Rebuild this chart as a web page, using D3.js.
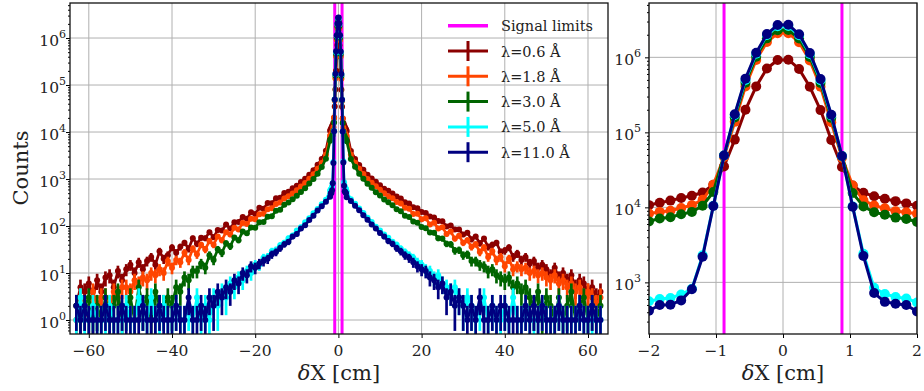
<!DOCTYPE html>
<html lang="en">
<head>
<meta charset="utf-8">
<style>
  body { margin: 0; background: #fff; }
  .grid line { stroke: #b0b0b0; stroke-width: 1; }
  .axis path { display: none; }
  .axis line { stroke: #000; stroke-width: 1; }
</style>
</head>
<body>
<svg width="924" height="391"></svg>
<script src="https://d3js.org/d3.v7.min.js"></script>
<script>

// ---- data ----
var labels = ["λ=0.6 Å", "λ=1.8 Å", "λ=3.0 Å", "λ=5.0 Å", "λ=11.0 Å"];
var colors = ["#8b0000", "#ff4500", "#006400", "#00ffff", "#000080"];
var signalLimits = [-0.88, 0.88];

// bin centres of the zoomed core
var coreX = [-2.00, -1.84, -1.68, -1.52, -1.36, -1.20, -1.04, -0.88, -0.72, -0.56, -0.40, -0.24, -0.08,
             0.08, 0.24, 0.40, 0.56, 0.72, 0.88, 1.04, 1.20, 1.36, 1.52, 1.68, 1.84, 2.00];
var core06  = [10700, 11500, 12300, 13300, 14300, 15800, 20000, 35000, 80000, 200000, 410000, 710000, 920000,
               930000, 700000, 405000, 198000, 79000, 34500, 19500, 15600, 14100, 13000, 12100, 11300, 10500];
var core18  = [8300, 8700, 9000, 9800, 10700, 12600, 20000, 47000, 138000, 410000, 920000, 1600000, 2090000,
               2100000, 1590000, 910000, 405000, 136000, 46000, 19500, 12400, 10600, 9700, 8900, 8600, 8200];
var core30  = [6500, 7100, 7400, 8100, 8700, 10500, 16000, 49000, 158000, 460000, 1020000, 1790000, 2300000,
               2310000, 1780000, 1010000, 455000, 156000, 48000, 15500, 10300, 8600, 8000, 7300, 7000, 6400];
var core50  = [560, 600, 620, 690, 820, 2300, 10500, 49000, 170000, 500000, 1120000, 1980000, 2600000,
               2610000, 1970000, 1110000, 495000, 168000, 48500, 10300, 2400, 850, 700, 640, 610, 540];
var core110 = [420, 500, 505, 575, 810, 2200, 10400, 49000, 174000, 520000, 1150000, 2040000, 2700000,
               2720000, 2030000, 1140000, 515000, 172000, 48500, 10200, 2250, 720, 550, 520, 500, 410];

// tails, |dX| = 3 .. 63 cm (L = negative side, R = positive side)
var tailX = [3, 4, 5, 6, 7, 8, 9, 10, 11, 12, 13, 14, 15, 16, 17, 18, 19, 20, 21, 22,
             23, 24, 25, 26, 27, 28, 29, 30, 31, 32, 33, 34, 35, 36, 37, 38, 39, 40, 41, 42,
             43, 44, 45, 46, 47, 48, 49, 50, 51, 52, 53, 54, 55, 56, 57, 58, 59, 60, 61, 62, 63];

var tailL06 = [4000, 2650, 2010, 1540, 1240, 1010, 860, 715, 640, 535,
               505, 400, 390, 305, 310, 232, 244, 180, 196, 142,
               156, 122, 120, 88, 108, 80, 82, 58, 74, 55,
               56, 42, 55, 33, 44, 36, 27, 35, 24, 20,
               29, 15, 22, 18, 12, 17, 10, 15, 12, 7,
               11, 5, 9, 8, 4, 7, 3, 6, 4, 5, 2];
var tailR06 = [3950, 2680, 1990, 1580, 1230, 1030, 870, 740, 620, 560,
               490, 425, 385, 320, 300, 250, 238, 198, 190, 160,
               152, 128, 126, 98, 102, 84, 84, 66, 72, 52,
               60, 43, 54, 36, 40, 44, 28, 30, 35, 22,
               26, 19, 22, 16, 18, 13, 15, 12, 9, 13,
               8, 10, 7, 9, 5, 7, 6, 4, 5, 3, 4];

var tailL18 = [3300, 2200, 1650, 1260, 1010, 820, 690, 580, 490, 430,
               385, 318, 295, 238, 228, 182, 178, 140, 142, 110,
               116, 84, 92, 66, 74, 50, 60, 40, 48, 32,
               40, 25, 33, 19, 27, 17, 19, 13, 18, 10,
               12, 9, 10, 7, 8, 6, 7, 4, 5, 5,
               3, 4, 2, 3, 3, 2, 4, 1, 2, 3, 1];
var tailR18 = [3280, 2230, 1660, 1280, 1000, 835, 700, 590, 500, 425,
               392, 325, 300, 244, 232, 180, 182, 140, 146, 108,
               118, 88, 94, 68, 76, 54, 62, 44, 50, 36,
               41, 28, 35, 22, 29, 19, 22, 14, 20, 12,
               14, 12, 13, 10, 11, 9, 10, 8, 7, 9,
               6, 7, 5, 6, 4, 5, 3, 4, 3, 2, 3];

var tailL30 = [2700, 1800, 1300, 1000, 800, 640, 530, 440, 370, 315,
               282, 222, 210, 162, 158, 122, 120, 92, 93, 70,
               76, 50, 57, 37, 43, 27, 32, 19, 24, 13,
               16, 11, 11, 7, 8, 4, 5, 2, 3, 2,
               2, 4, 1, 3, 2, 5, 1, 3, 2, 1,
               4, 2, 1, 3, 1, 2, 1, 3, 2, 1, 2];
var tailR30 = [2650, 1820, 1290, 1010, 790, 650, 520, 445, 365, 320,
               276, 226, 206, 166, 156, 124, 118, 95, 90, 73,
               72, 55, 54, 42, 41, 30, 31, 24, 25, 18,
               18, 15, 14, 11, 12, 9, 8, 7, 8, 5,
               6, 4, 5, 3, 2, 4, 1, 3, 2, 1,
               3, 1, 2, 4, 1, 2, 3, 1, 2, 1, 2];

var tailL50 = [360, 292, 230, 186, 146, 120, 94, 80, 63, 55,
               44, 39, 31, 29, 22, 21, 15, 15, 10, 11,
               7, 8, 5, 6, 3, 4, 2, 3, 1, 2,
               1, 3, 1, 2, 1, 1, 2, 1, 1, 2,
               1, 1, 3, 1, 2, 3, 1, 1, 2, 1,
               1, 1, 2, 1, 1, 1, 2, 1, 1, 3, 1];
var tailR50 = [370, 296, 236, 190, 150, 122, 97, 80, 66, 56,
               46, 40, 33, 28, 24, 21, 17, 15, 12, 11,
               8, 9, 6, 5, 4, 5, 3, 2, 3, 2,
               1, 2, 3, 1, 2, 1, 1, 2, 1, 3,
               1, 1, 2, 1, 1, 1, 2, 1, 1, 1,
               2, 1, 1, 1, 1, 2, 1, 1, 1, 1, 1];

var tailL110 = [330, 262, 214, 166, 134, 104, 88, 68, 60, 46,
                41, 34, 28, 25, 20, 18, 16, 13, 14, 9,
                10, 6, 7, 4, 5, 3, 4, 2, 3, 1,
                2, 1, 1, 3, 1, 1, 2, 1, 1, 1,
                2, 1, 1, 1, 2, 1, 1, 1, 1, 2,
                1, 1, 1, 2, 1, 1, 1, 1, 2, 1, 2];
var tailR110 = [340, 270, 216, 170, 136, 108, 88, 71, 60, 48,
                42, 34, 29, 24, 21, 17, 14, 12, 11, 8,
                7, 5, 6, 3, 4, 2, 3, 2, 1, 2,
                1, 3, 1, 1, 2, 1, 2, 2, 1, 1,
                1, 1, 2, 1, 2, 1, 2, 1, 1, 1,
                2, 1, 1, 1, 1, 2, 1, 1, 2, 1, 1];

var xTicksLeft = [-60, -40, -20, 0, 20, 40, 60];
var xTicksRight = [-2, -1, 0, 1, 2];
var yExpLeft = [0, 1, 2, 3, 4, 5, 6];
var yExpRight = [3, 4, 5, 6];

var cores = [core06, core18, core30, core50, core110];
var tailsL = [tailL06, tailL18, tailL30, tailL50, tailL110];
var tailsR = [tailR06, tailR18, tailR30, tailR50, tailR110];

var series = labels.map(function (lab, i) {
    var full = [];
    for (var k = tailX.length - 1; k >= 0; k--) full.push({x: -tailX[k], y: tailsL[i][k]});
    coreX.forEach(function (x, k) { full.push({x: x, y: cores[i][k]}); });
    tailX.forEach(function (x, k) { full.push({x: x, y: tailsR[i][k]}); });
    var zoom = coreX.map(function (x, k) { return {x: x, y: cores[i][k]}; });
    return {label: lab, color: colors[i], full: full, zoom: zoom};
});

var svg = d3.select("svg");
var SERIF = "'DejaVu Serif', serif";
var FONT_TICK = 15.5;

function minorTicks(dom) {
    var out = [];
    var lo = Math.floor(Math.log10(dom[0])), hi = Math.ceil(Math.log10(dom[1]));
    for (var e = lo; e <= hi; e++) {
        for (var m = 2; m <= 9; m++) {
            var v = m * Math.pow(10, e);
            if (v >= dom[0] && v <= dom[1]) out.push(v);
        }
    }
    return out;
}

function drawPanel(p) {
    var x = d3.scaleLinear().domain(p.xDomain).range([p.x0, p.x1]);
    var y = d3.scaleLog().domain(p.yDomain).range([p.y1, p.y0]);
    var g = svg.append("g");

    // grid
    var grid = g.append("g").attr("class", "grid");
    grid.selectAll(".gx").data(p.xTicks).enter().append("line")
        .attr("x1", function (d) { return x(d); }).attr("x2", function (d) { return x(d); })
        .attr("y1", p.y0).attr("y2", p.y1);
    grid.selectAll(".gy").data(p.yExp).enter().append("line")
        .attr("x1", p.x0).attr("x2", p.x1)
        .attr("y1", function (d) { return y(Math.pow(10, d)); })
        .attr("y2", function (d) { return y(Math.pow(10, d)); });

    svg.append("clipPath").attr("id", "clip-" + p.name).append("rect")
        .attr("x", p.x0).attr("y", p.y0).attr("width", p.x1 - p.x0).attr("height", p.y1 - p.y0);
    var plot = g.append("g").attr("clip-path", "url(#clip-" + p.name + ")");

    // signal limits
    plot.selectAll(".lim").data(signalLimits).enter().append("line")
        .attr("x1", function (d) { return x(d); }).attr("x2", function (d) { return x(d); })
        .attr("y1", p.y0).attr("y2", p.y1)
        .attr("stroke", "#ff00ff").attr("stroke-width", 3);

    var line = d3.line().x(function (d) { return x(d.x); }).y(function (d) { return y(d.y); });

    series.forEach(function (s) {
        var pts = s[p.key];
        var sg = plot.append("g");
        sg.append("path").datum(pts).attr("d", line)
            .attr("fill", "none").attr("stroke", s.color)
            .attr("stroke-width", p.lw).attr("stroke-linejoin", "round");
        sg.selectAll("line").data(pts).enter().append("line")
            .attr("x1", function (d) { return x(d.x); }).attr("x2", function (d) { return x(d.x); })
            .attr("y1", function (d) { return y(d.y + Math.sqrt(d.y)); })
            .attr("y2", function (d) {
                var lo = d.y - Math.sqrt(d.y);
                return lo > p.yDomain[0] ? y(lo) : p.y1 + 5;
            })
            .attr("stroke", s.color).attr("stroke-width", p.lw);
        sg.selectAll("circle").data(pts).enter().append("circle")
            .attr("cx", function (d) { return x(d.x); })
            .attr("cy", function (d) { return y(d.y); })
            .attr("r", p.r).attr("fill", s.color);
    });

    // axes ticks
    g.append("g").attr("class", "axis").attr("transform", "translate(0," + p.y1 + ")")
        .call(d3.axisBottom(x).tickValues(p.xTicks).tickSize(4).tickFormat(""));
    g.append("g").attr("class", "axis").attr("transform", "translate(" + p.x0 + ",0)")
        .call(d3.axisLeft(y).tickValues(p.yExp.map(function (e) { return Math.pow(10, e); }))
            .tickSize(4).tickFormat(""));
    g.append("g").attr("class", "axis").attr("transform", "translate(" + p.x0 + ",0)")
        .call(d3.axisLeft(y).tickValues(minorTicks(p.yDomain)).tickSize(2).tickFormat(""));

    // tick labels
    g.selectAll(".xl").data(p.xTicks).enter().append("text")
        .attr("x", function (d) { return x(d); }).attr("y", p.y1 + 22)
        .attr("text-anchor", "middle").style("font-family", SERIF)
        .attr("font-size", FONT_TICK).attr("fill", "#222")
        .text(function (d) { return d < 0 ? "\u2212" + (-d) : d; });
    var yl = g.selectAll(".yl").data(p.yExp).enter().append("text")
        .attr("x", p.labelX).attr("y", function (d) { return y(Math.pow(10, d)) + 8; })
        .attr("text-anchor", "end").style("font-family", SERIF)
        .attr("font-size", FONT_TICK).attr("fill", "#222");
    yl.append("tspan").text("10");
    yl.append("tspan").attr("dy", -8).attr("font-size", 11).text(function (d) { return d; });

    // x label
    var xl = g.append("text").attr("x", (p.x0 + p.x1) / 2).attr("y", 380)
        .attr("text-anchor", "middle").style("font-family", SERIF)
        .attr("font-size", 21).attr("fill", "#222");
    xl.append("tspan").attr("font-style", "italic").text("δ");
    xl.append("tspan").text("X [cm]");

    // frame
    g.append("rect").attr("x", p.x0).attr("y", p.y0)
        .attr("width", p.x1 - p.x0).attr("height", p.y1 - p.y0)
        .attr("fill", "none").attr("stroke", "#111").attr("stroke-width", 1.3);
}

drawPanel({
    name: "full", key: "full",
    x0: 70, x1: 608, y0: 3, y1: 334,
    xDomain: [-64.52, 64.81], yDomain: [0.504, 5.56e6],
    xTicks: xTicksLeft, yExp: yExpLeft, labelX: 66,
    r: 3, lw: 2.7
});
drawPanel({
    name: "zoom", key: "zoom",
    x0: 649, x1: 917, y0: 3, y1: 334,
    xDomain: [-2, 2], yDomain: [205, 5.3e6],
    xTicks: xTicksRight, yExp: yExpRight, labelX: 641,
    r: 5, lw: 3
});

// y label
svg.append("text").attr("transform", "translate(28,168) rotate(-90)")
    .attr("text-anchor", "middle").style("font-family", SERIF)
    .attr("font-size", 21).attr("fill", "#222").text("Counts");

// legend (no frame)
var leg = svg.append("g");
var legRows = [{label: "Signal limits", color: "#ff00ff", limit: true}].concat(
    series.map(function (s) { return {label: s.label, color: s.color}; }));
legRows.forEach(function (r, i) {
    var cy = 25.7 + i * 25.3;
    leg.append("line").attr("x1", 448).attr("x2", 488).attr("y1", cy).attr("y2", cy)
        .attr("stroke", r.color).attr("stroke-width", r.limit ? 3.5 : 3);
    if (!r.limit) {
        leg.append("line").attr("x1", 468).attr("x2", 468).attr("y1", cy - 10).attr("y2", cy + 10)
            .attr("stroke", r.color).attr("stroke-width", 3);
    }
    leg.append("text").attr("x", 501).attr("y", cy + 5.5).style("font-family", SERIF)
        .attr("font-size", 14.5).attr("fill", "#222").text(r.label);
});

</script>
</body>
</html>
